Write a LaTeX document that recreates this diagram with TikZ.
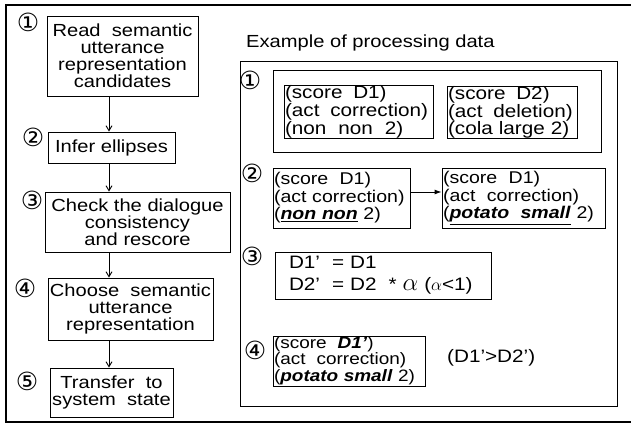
\documentclass[tikz,border=0pt]{standalone}
\usepackage{fontspec}
\setmainfont{Liberation Sans}[FakeStretch=1.15]
\newfontfamily\cnumfont{DejaVu Sans}
\usetikzlibrary{arrows.meta}
\begin{document}
\begin{tikzpicture}[x=1pt,y=-1pt]
\tikzset{
  lt/.style={font=\fontsize{17.5}{17}\selectfont},
  rt/.style={font=\fontsize{18}{14.7}\selectfont},
  rtb/.style={font=\fontsize{17}{17.5}\selectfont},
  box/.style={draw, line width=0.9pt, inner ysep=0pt, inner xsep=1pt},
  marker/.style={font=\cnumfont\fontsize{25}{25}\selectfont, inner sep=0pt},
  arr/.style={line width=0.9pt, -{Straight Barb[length=5pt,width=6pt]}},
  arrf/.style={line width=0.9pt, -{Latex[length=7pt,width=5pt]}}
}
\newcommand{\bi}[1]{\textbf{\textit{#1}}}
\useasboundingbox (0,0) rectangle (631,425);
% outer frame (open on the right)
\draw[line width=1.6pt] (645,5) -- (6,5) -- (6,422) -- (645,422);

% ---- left column ----
\node[box,lt,align=center,minimum width=151pt,minimum height=80pt] (B1) at (122.5,56)
  {Read\ \ semantic\\utterance\\representation\\candidates};
\node[box,lt,align=center,minimum width=127pt,minimum height=31pt] (B2) at (111.5,147.5)
  {Infer ellipses};
\node[box,lt,align=center,minimum width=185pt,minimum height=60pt] (B3) at (137.5,222)
  {Check the dialogue\\consistency\\and rescore};
\node[box,lt,align=center,minimum width=165pt,minimum height=62pt] (B4) at (130.5,309)
  {Choose\ \ semantic\\utterance\\representation};
\node[box,lt,align=center,minimum width=123pt,minimum height=49pt] (B5) at (111.5,392.5)
  {Transfer\ \ to\\system\ \ state};

\node[marker] (M1) at (28,22) {①};
\node[marker] (M2) at (33,137) {②};
\node[marker] (M3) at (32,200) {③};
\node[marker] (M4) at (25,288) {④};
\node[marker] (M5) at (27,381) {⑤};

\coordinate (ax) at (109,0);
\draw[arr] (B1.south -| ax) -- (B2.north -| ax);
\draw[arr] (B2.south -| ax) -- (B3.north -| ax);
\draw[arr] (B3.south -| ax) -- (B4.north -| ax);
\draw[arr] (B4.south -| ax) -- (B5.north -| ax);

% ---- right column ----
\node[lt,anchor=west,inner sep=0pt] (title) at (246,43) {Example of processing data};
\node[box,minimum width=377pt,minimum height=345pt] (R) at (428.5,233.5) {};

\node[box,minimum width=328pt,minimum height=82pt] (R1) at (437,111) {};
\node[box,rt,align=left,text width=147pt,minimum height=50pt] (R1a) at (358.5,112)
  {\mbox{(score\hspace{0.6em}D1)}\\\mbox{(act\hspace{0.6em}correction)}\\\mbox{(non\ \ non\ \ 2)}};
\node[box,rt,align=left,text width=128pt,minimum height=51pt] (R1b) at (512,112.5)
  {\mbox{(score\hspace{0.6em}D2)}\\\mbox{(act\hspace{0.6em}deletion)}\\\mbox{(cola large 2)}};

\node[box,rtb,align=left,text width=135pt,minimum height=60pt] (R2a) at (341.5,198)
  {\mbox{(score\ \ D1)}\\\mbox{(act correction)}\\\mbox{(\underline{\bi{non non}} 2)}};
\node[box,rtb,align=left,text width=161pt,minimum height=60pt] (R2b) at (523.5,198)
  {\mbox{(score\ \ D1)}\\\mbox{(act\ \ correction)}\\\mbox{(\underline{\bi{potato\ \ small}} 2)}};
\coordinate (ay) at (0,192);
\draw[arrf] (R2a.east |- ay) -- (R2b.west |- ay);

\node[box,align=left,inner xsep=14pt,text width=188pt,minimum height=47pt,
      font=\fontsize{18}{22}\selectfont] (R3) at (383,275.5)
  {D1'\ \ =\ D1\\D2'\ \ =\ D2\ \ *\ {\fontsize{28}{22}\selectfont$\alpha$}\ ($\alpha${<}1)};

\node[box,align=left,text width=150pt,minimum height=47pt,
      font=\fontsize{16.5}{15}\selectfont] (R4) at (349,361.5)
  {\mbox{(score\ \ \bi{D1'})}\\\mbox{(act\ \ correction)}\\\mbox{(\underline{\bi{potato\ small}} 2)}};
\node[rt,anchor=west,inner sep=0pt] (cmp) at (447,358) {(D1'>D2')};

\node[marker] (RM1) at (250,80) {①};
\node[marker] (RM2) at (252,173) {②};
\node[marker] (RM3) at (252,256) {③};
\node[marker] (RM4) at (255,350) {④};
\end{tikzpicture}
\end{document}
